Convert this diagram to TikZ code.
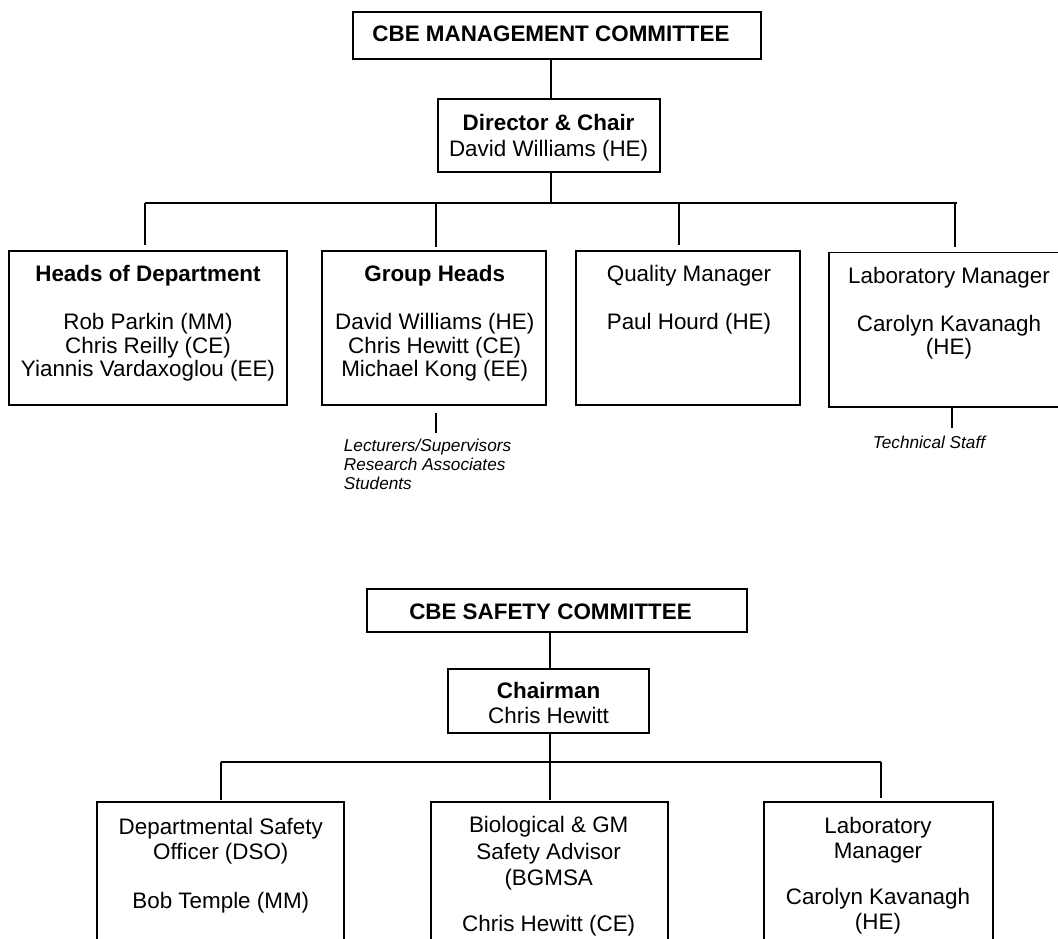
\documentclass[tikz,border=0pt]{standalone}
\usepackage{fontspec}
\setmainfont{Liberation Sans}
\begin{document}
\begin{tikzpicture}[x=1pt,y=-1pt,
  box/.style={draw, line width=1.9pt, inner sep=0pt, rectangle},
  conn/.style={line width=1.9pt},
  big/.style={inner sep=0pt, anchor=base, font=\fontsize{22.4}{24}\selectfont},
  bigb/.style={big, font=\fontsize{22.4}{24}\selectfont\bfseries},
  small/.style={inner sep=0pt, anchor=base west, font=\fontsize{17.2}{19}\selectfont\itshape}]
\clip (0,0) rectangle (1058,938);
% ---------- top chart ----------
\node[box, minimum width=407.7pt, minimum height=47.6pt] (cbe) at (557.15,35.5) {};
\node[bigb] (tcbe) at (551,41.3) {CBE MANAGEMENT COMMITTEE};
\node[box, minimum width=222.3pt, minimum height=72.4pt] (dir) at (548.85,135.5) {};
\node[bigb] (tdir1) at (548.6,130.7) {Director \& Chair};
\node[big] (tdir2) at (548.6,156.3) {David Williams (HE)};

\node[box, minimum width=278.4pt, minimum height=154.3pt] (hod) at (147.8,327.85) {};
\node[bigb] (thod1) at (148,281.3) {Heads of Department};
\node[big] (thod2) at (148,329.7) {Rob Parkin (MM)};
\node[big] (thod3) at (148,353) {Chris Reilly (CE)};
\node[big] (thod4) at (148,376.3) {Yiannis Vardaxoglou (EE)};

\node[box, minimum width=224pt, minimum height=154.3pt] (gh) at (434,327.85) {};
\node[bigb] (tgh1) at (434.7,281.3) {Group Heads};
\node[big] (tgh2) at (434.7,329.7) {David Williams (HE)};
\node[big] (tgh3) at (434.7,353) {Chris Hewitt (CE)};
\node[big] (tgh4) at (434.7,376.3) {Michael Kong (EE)};

\node[box, minimum width=224pt, minimum height=154.3pt] (qm) at (688,327.85) {};
\node[big] (tqm1) at (689,281) {Quality Manager};
\node[big] (tqm2) at (689,329.7) {Paul Hourd (HE)};

\node[box, minimum width=241pt, minimum height=154.2pt] (lm) at (949.5,329.6) {};
\node[big] (tlm1) at (949,283) {Laboratory Manager};
\node[big] (tlm2) at (949,331) {Carolyn Kavanagh};
\node[big] (tlm3) at (949,354.7) {(HE)};

\coordinate (tj) at (550.7,203.3);
\coordinate (tl) at (145,203.3);
\coordinate (tr) at (957.3,203.3);
\coordinate (d1) at (145,203.3);
\coordinate (d2) at (435.7,203.3);
\coordinate (d3) at (679.3,203.3);
\coordinate (d4) at (955,203.3);
\draw[conn] (cbe.south -| tj) -- (dir.north -| tj);
\draw[conn] (dir.south -| tj) -- (tj);
\draw[conn] (tl) -- (tr);
\draw[conn] (d1) -- ++(0,42);
\draw[conn] (d2) -- ++(0,43.4);
\draw[conn] (d3) -- ++(0,42);
\draw[conn] (d4) -- ++(0,43.4);

\coordinate (ghs) at (436,412.7);
\draw[conn] (ghs) -- ++(0,20.3);
\node[small] (tgs1) at (343.7,451) {Lecturers/Supervisors};
\node[small] (tgs2) at (343.7,470) {Research Associates};
\node[small] (tgs3) at (343.7,489.5) {Students};

\coordinate (lms) at (951.7,406.7);
\draw[conn] (lms) -- ++(0,21.6);
\node[small, anchor=base] (tts) at (929,448.3) {Technical Staff};

% ---------- bottom chart ----------
\node[box, minimum width=380.3pt, minimum height=43pt] (cbes) at (556.85,610.5) {};
\node[bigb] (tcbes) at (550.5,619.7) {CBE SAFETY COMMITTEE};
\node[box, minimum width=201.3pt, minimum height=64.3pt] (chair) at (548.35,700.85) {};
\node[bigb] (tch1) at (548.6,698) {Chairman};
\node[big] (tch2) at (548.6,723.7) {Chris Hewitt};

\node[box, minimum width=247pt, minimum height=178.3pt] (dso) at (220.8,890.85) {};
\node[big] (tdso1) at (220.8,834.7) {Departmental Safety};
\node[big] (tdso2) at (220.8,859.7) {Officer (DSO)};
\node[big] (tdso3) at (220.8,908) {Bob Temple (MM)};

\node[box, minimum width=237pt, minimum height=177.7pt] (bg) at (549.2,891.15) {};
\node[big] (tbg1) at (548.7,832.3) {Biological \& GM};
\node[big] (tbg2) at (548.7,859.7) {Safety Advisor};
\node[big] (tbg3) at (548.7,885.3) {(BGMSA};
\node[big] (tbg4) at (548.7,931.3) {Chris Hewitt (CE)};

\node[box, minimum width=228.7pt, minimum height=178.3pt] (lab) at (878.35,890.85) {};
\node[big] (tlab1) at (878,833) {Laboratory};
\node[big] (tlab2) at (878,858) {Manager};
\node[big] (tlab3) at (878,904.7) {Carolyn Kavanagh};
\node[big] (tlab4) at (878,929.7) {(HE)};

\coordinate (bj) at (550,761.7);
\coordinate (bl) at (221,761.7);
\coordinate (br) at (880.7,761.7);
\draw[conn] (cbes.south -| bj) -- (chair.north -| bj);
\draw[conn] (chair.south -| bj) -- (bj);
\draw[conn] (bl) -- (br);
\draw[conn] (bl) -- ++(0,38.3);
\draw[conn] (bj) -- ++(0,38.3);
\draw[conn] (br) -- ++(0,36.3);
\end{tikzpicture}
\end{document}
